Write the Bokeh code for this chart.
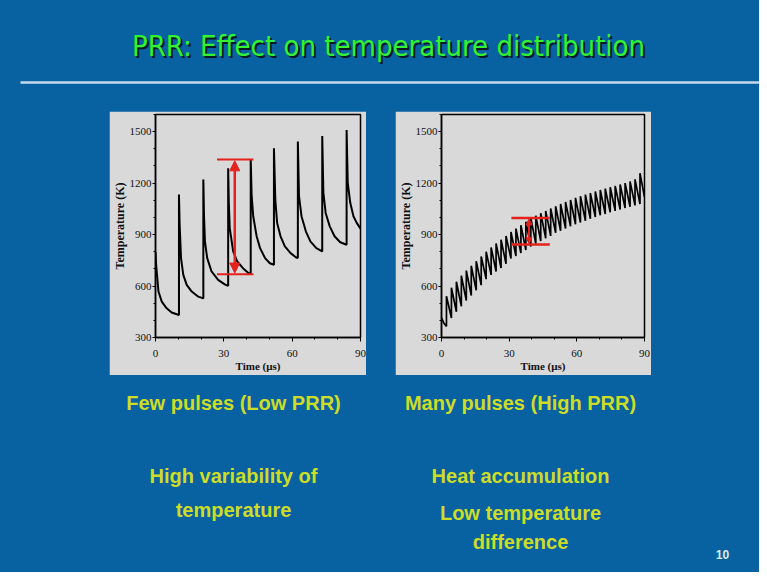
from bokeh.plotting import figure
from bokeh.layouts import row, column
from bokeh.models import Range1d, FixedTicker, Arrow, NormalHead, Spacer
from bokeh.core.properties import value
from bokeh.embed import file_html
from bokeh.resources import INLINE

# ---------------- data ----------------
title_text = "PRR: Effect on temperature distribution"
left_caption = ["Few pulses (Low PRR)", "High variability of", "temperature"]
right_caption = ["Many pulses (High PRR)", "Heat accumulation", "Low temperature", "difference"]
page_number = "10"

x_ticks = [0, 30, 60, 90]
x_minor = [10, 20, 40, 50, 70, 80]
y_ticks = [300, 600, 900, 1200, 1500]
y_minor = [400, 500, 700, 800, 1000, 1100, 1300, 1400, 1600]
x_label = "Time (\u03bcs)"
y_label = "Temperature (K)"

# Low PRR: temperature trace (time in us, temperature in K)
low_t = [0.0, 0.3, 1.3, 2.75, 4.9, 7.1, 10.3,
         10.3, 10.6, 11.2, 12.2, 13.7, 15.9, 18.8, 21.0,
         21.0, 21.3, 21.7, 22.7, 24.6, 27.5, 30.4, 31.9,
         31.9, 32.2, 32.6, 34.1, 35.9, 38.4, 40.9, 41.8,
         41.8, 42.2, 42.9, 44.4, 45.9, 48.1, 50.2, 52.0,
         52.0, 52.6, 53.4, 54.9, 56.8, 59.3, 61.6, 62.5,
         62.5, 63.0, 64.1, 66.0, 68.0, 70.6, 73.2,
         73.2, 73.7, 74.7, 76.5, 78.6, 81.1, 83.9,
         83.9, 84.4, 85.5, 86.9, 88.4, 90.0]
low_T = [800, 720, 568, 509, 470, 446, 431,
         1133, 958, 763, 665, 607, 568, 538, 528,
         1221, 1010, 860, 763, 685, 636, 610, 601,
         1286, 1080, 938, 802, 743, 704, 675, 669,
         1339, 1130, 1007, 890, 821, 763, 733, 724,
         1403, 1104, 967, 890, 831, 792, 768, 763,
         1442, 1124, 1007, 919, 860, 821, 802,
         1475, 1144, 1026, 948, 890, 855, 841,
         1510, 1202, 1085, 1007, 967, 935]

# High PRR: start of trace, pulse times, value before each pulse, peak after each pulse, end
high_start_t = [0.0, 1.0]
high_start_T = [415, 385]
high_pulse_t = [2.2, 4.4, 6.6, 8.8, 11.0, 13.2, 15.4, 17.6, 19.8, 22.0,
                24.2, 26.4, 28.6, 30.8, 33.0, 35.2, 37.4, 39.6, 41.8, 44.0,
                46.2, 48.4, 50.6, 52.8, 55.0, 57.2, 59.4, 61.6, 63.8, 66.0,
                68.2, 70.4, 72.6, 74.8, 77.0, 79.2, 81.4, 83.6, 85.8, 88.0]
high_trough_T = [365, 414, 450, 482, 515, 545, 575, 605, 640, 665,
                 685, 705, 730, 760, 775, 792, 810, 830, 848, 862,
                 878, 892, 910, 922, 935, 948, 960, 970, 980, 992,
                 1002, 1012, 1020, 1030, 1038, 1046, 1055, 1062, 1070, 1078]
high_peak_T = [541, 590, 625, 660, 690, 718, 745, 772, 800, 825,
               848, 870, 892, 915, 935, 955, 975, 995, 1010, 1025,
               1038, 1052, 1065, 1078, 1090, 1102, 1114, 1124, 1133, 1142,
               1151, 1160, 1168, 1176, 1184, 1192, 1200, 1210, 1222, 1258]
high_end_t = [90.0]
high_end_T = [1118]

# red annotations: [x0, x1], [lower level, upper level], arrow x
low_marker_x = [27.0, 43.0]
low_marker_T = [668, 1338]
low_arrow_x = 34.8
high_marker_x = [31.0, 48.0]
high_marker_T = [842, 997]
high_arrow_x = 38.8

# ---------------- styling ----------------
BLUE = "#0862a1"
GREY = "#d9d9d9"
RED = "#e3221c"
GREEN = "#33f233"
YELLOW = "#cddc27"
SERIF = "'Liberation Serif', 'Times New Roman', serif"
TITLE_FONT = value("'DejaVu Sans Condensed', 'Liberation Sans Narrow', sans-serif")

W = 759
TOP_H, MID_H, BOT_H = 111, 264, 197
LEFT_W, C1_W, GAP_W, C2_W = 109, 257, 29, 256


def blank(width, height):
    p = figure(width=width, height=height, output_backend="svg", toolbar_location=None,
               x_range=Range1d(0, width), y_range=Range1d(height, 0),
               x_axis_location=None, y_axis_location=None, min_border=0,
               background_fill_color=BLUE, border_fill_color=BLUE)
    p.grid.visible = False
    p.outline_line_color = None
    return p


def chart(width, bl, br, bt, bb):
    p = figure(width=width, height=MID_H, output_backend="svg", toolbar_location=None,
               x_range=Range1d(0, 90), y_range=Range1d(300, 1600),
               min_border_left=bl, min_border_right=br, min_border_top=bt, min_border_bottom=bb,
               background_fill_color=GREY, border_fill_color=GREY)
    p.grid.visible = False
    p.outline_line_color = "black"
    p.outline_line_width = 1.5
    p.xaxis.ticker = FixedTicker(ticks=x_ticks, minor_ticks=x_minor)
    p.yaxis.ticker = FixedTicker(ticks=y_ticks, minor_ticks=y_minor)
    for ax in (p.xaxis[0], p.yaxis[0]):
        ax.axis_line_width = 1.5
        ax.axis_line_color = "black"
        ax.major_tick_line_color = "black"
        ax.minor_tick_line_color = "black"
        ax.major_tick_in = 0
        ax.minor_tick_out = 2
        ax.minor_tick_in = 0
        ax.major_label_text_font = SERIF
        ax.major_label_text_font_size = "11px"
        ax.major_label_text_color = "#111111"
        ax.axis_label_text_font = SERIF
        ax.axis_label_text_font_style = "bold"
        ax.axis_label_text_color = "#111111"
    p.xaxis.axis_label = x_label
    p.yaxis.axis_label = y_label
    p.xaxis.axis_label_text_font_size = "11px"
    p.yaxis.axis_label_text_font_size = "12px"
    p.xaxis.major_tick_out = 4
    p.yaxis.major_tick_out = 3
    p.xaxis.major_label_standoff = 8
    p.yaxis.major_label_standoff = 1
    p.xaxis.axis_label_standoff = 0
    p.yaxis.axis_label_standoff = 0
    return p


# ---------- left chart ----------
c1 = chart(C1_W, 45, 6, 3, 37)
c1.line(low_t, low_T, line_color="black", line_width=2)
c1.segment(x0=[low_marker_x[0]] * 2, x1=[low_marker_x[1]] * 2, y0=low_marker_T, y1=low_marker_T,
           line_color=RED, line_width=2)
c1.add_layout(Arrow(start=NormalHead(size=10, fill_color=RED, line_color=RED),
                    end=NormalHead(size=10, fill_color=RED, line_color=RED),
                    x_start=low_arrow_x, y_start=low_marker_T[0] + 8,
                    x_end=low_arrow_x, y_end=low_marker_T[1] - 8,
                    line_color=RED, line_width=2.5))

# ---------- right chart ----------
hx, hy = list(high_start_t), list(high_start_T)
for t, lo, hi in zip(high_pulse_t, high_trough_T, high_peak_T):
    hx += [t, t]
    hy += [lo, hi]
hx += high_end_t
hy += high_end_T

c2 = chart(C2_W, 45, 7, 3, 38)
c2.line(hx, hy, line_color="black", line_width=1.7)
c2.segment(x0=[high_marker_x[0]] * 2, x1=[high_marker_x[1]] * 2, y0=high_marker_T, y1=high_marker_T,
           line_color=RED, line_width=2.5)
c2.add_layout(Arrow(start=NormalHead(size=6, fill_color=RED, line_color=RED),
                    end=NormalHead(size=6, fill_color=RED, line_color=RED),
                    x_start=high_arrow_x, y_start=high_marker_T[0] + 6,
                    x_end=high_arrow_x, y_end=high_marker_T[1] - 6,
                    line_color=RED, line_width=2))

# ---------- title band ----------
top = blank(W, TOP_H)
top.text(x=[390], y=[47], text=[title_text], text_font=TITLE_FONT,
         text_font_size=value("29px"), text_color="#0a1a24", text_align="center", text_baseline="middle")
top.text(x=[388], y=[45], text=[title_text], text_font=TITLE_FONT,
         text_font_size=value("29px"), text_color=GREEN, text_align="center", text_baseline="middle")
top.segment(x0=[20], x1=[W], y0=[82], y1=[82], line_color="#c4d9ee", line_width=2.5)

# ---------- caption band ----------
bot = blank(W, BOT_H)
cap_font = value("'Liberation Sans', Arial, sans-serif")
bot.text(x=[233, 233, 233], y=[27, 100, 134], text=left_caption, text_font=cap_font,
         text_font_size=value("20px"), text_font_style="bold", text_color=YELLOW,
         text_align="center", text_baseline="middle")
bot.text(x=[520, 520, 520, 520], y=[27, 100, 137, 166], text=right_caption, text_font=cap_font,
         text_font_size=value("20px"), text_font_style="bold", text_color=YELLOW,
         text_align="center", text_baseline="middle")
bot.text(x=[722], y=[179], text=[page_number], text_font=cap_font,
         text_font_size=value("12px"), text_font_style="bold", text_color="#dfe8f2",
         text_align="center", text_baseline="middle")

mid = row(
    Spacer(width=LEFT_W, height=MID_H, styles={"background-color": BLUE}),
    c1,
    Spacer(width=GAP_W, height=MID_H, styles={"background-color": BLUE}),
    c2,
    Spacer(width=W - LEFT_W - C1_W - GAP_W - C2_W, height=MID_H, styles={"background-color": BLUE}),
    spacing=0,
)
layout = column(top, mid, bot, spacing=0, styles={"background-color": BLUE})

open("out.html", "w").write(file_html(layout, INLINE))
